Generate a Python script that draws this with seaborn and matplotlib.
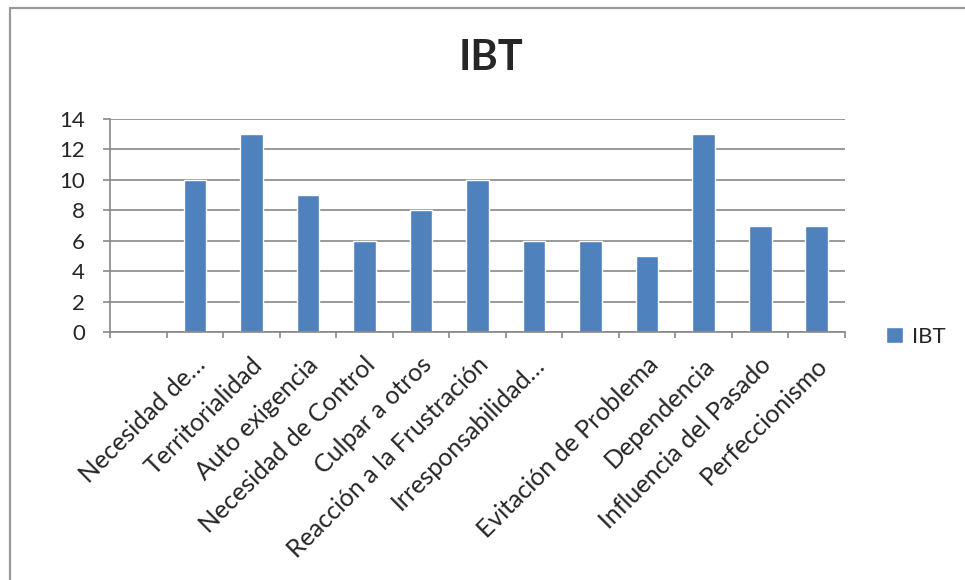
import numpy as np
import pandas as pd
import matplotlib
matplotlib.use("Agg")
import matplotlib.pyplot as plt
import matplotlib.transforms as mtransforms
from matplotlib.lines import Line2D
import seaborn as sns

# ---------------- DATA ----------------
categories = [
    "",
    "Necesidad de…",
    "Territorialidad",
    "Auto exigencia",
    "Necesidad de Control",
    "Culpar a otros",
    "Reacción a la Frustración",
    "Irresponsabilidad…",
    "",
    "Evitación de Problema",
    "Dependencia",
    "Influencia del Pasado",
    "Perfeccionismo",
]
ibt_values = [np.nan, 10, 13, 9, 6, 8, 10, 6, 6, 5, 13, 7, 7]
y_ticks = [0, 2, 4, 6, 8, 10, 12, 14]
series_name = "IBT"

# ---------------- STYLE ----------------
sns.set_style("white")
plt.rcParams['font.family'] = ['Lato', 'DejaVu Sans']

bar_color = "#4F81BD"
grid_color = "#878787"

df = pd.DataFrame({"pos": list(range(len(categories))), series_name: ibt_values})
df = df.dropna()

fig = plt.figure(figsize=(9.65, 5.8), dpi=100)
ax = fig.add_axes([110 / 965, 248 / 580, 735 / 965, 213 / 580])

sns.barplot(data=df, x="pos", y=series_name, order=list(range(len(categories))),
            color=bar_color, saturation=1, width=0.4, label=series_name, ax=ax)
if ax.get_legend() is not None:
    ax.get_legend().remove()

# ---------------- AXES ----------------
ax.set_xlim(-0.5, len(categories) - 0.5)
ax.set_ylim(0, 14)
ax.set_yticks(y_ticks)
ax.set_yticklabels([str(v) for v in y_ticks], fontsize=16)
ax.yaxis.grid(True, color=grid_color, linewidth=1.2)
ax.set_axisbelow(True)
ax.set_xlabel("")
ax.set_ylabel("")

for s in ["top", "right"]:
    ax.spines[s].set_visible(False)
for s in ["left", "bottom"]:
    ax.spines[s].set_color(grid_color)
    ax.spines[s].set_linewidth(1.2)

# tick marks on category boundaries, labels on centres
bounds = np.arange(len(categories) + 1) - 0.5
ax.set_xticks(bounds)
ax.set_xticklabels([])
ax.set_xticks(np.arange(len(categories)), minor=True)
ax.set_xticklabels(categories, minor=True, fontsize=18, rotation=45,
                   ha="right", va="center", rotation_mode="anchor")
ax.tick_params(axis="x", which="major", direction="out", length=4.5,
               width=1.2, color=grid_color, bottom=True)
ax.tick_params(axis="x", which="minor", length=0, pad=21)
ax.tick_params(axis="y", direction="out", length=5, width=1.2,
               color=grid_color, pad=13, left=True)

offset = mtransforms.ScaledTranslation(7 / 100, 0, fig.dpi_scale_trans)
for lbl in ax.get_xticklabels(minor=True):
    lbl.set_transform(lbl.get_transform() + offset)

# ---------------- TITLE / LEGEND ----------------
fig.text(491 / 965, 1 - 58 / 580, "IBT", fontsize=30, fontweight="bold",
         ha="center", va="center")

handles, labels = ax.get_legend_handles_labels()
fig.legend(handles[:1], labels[:1], loc="center left", bbox_to_anchor=(886 / 965, 1 - 337 / 580),
           frameon=False, fontsize=16, handlelength=0.75, handleheight=0.75,
           handletextpad=0.4, borderpad=0, borderaxespad=0)

# chart border (left and top edges visible)
fig.add_artist(Line2D([10 / 965, 10 / 965], [0, 1 - 7.5 / 580], color="#999999",
                      linewidth=1.6, transform=fig.transFigure))
fig.add_artist(Line2D([10 / 965, 1], [1 - 7.5 / 580, 1 - 7.5 / 580], color="#999999",
                      linewidth=1.6, transform=fig.transFigure))

fig.savefig("out.png", dpi=100)
